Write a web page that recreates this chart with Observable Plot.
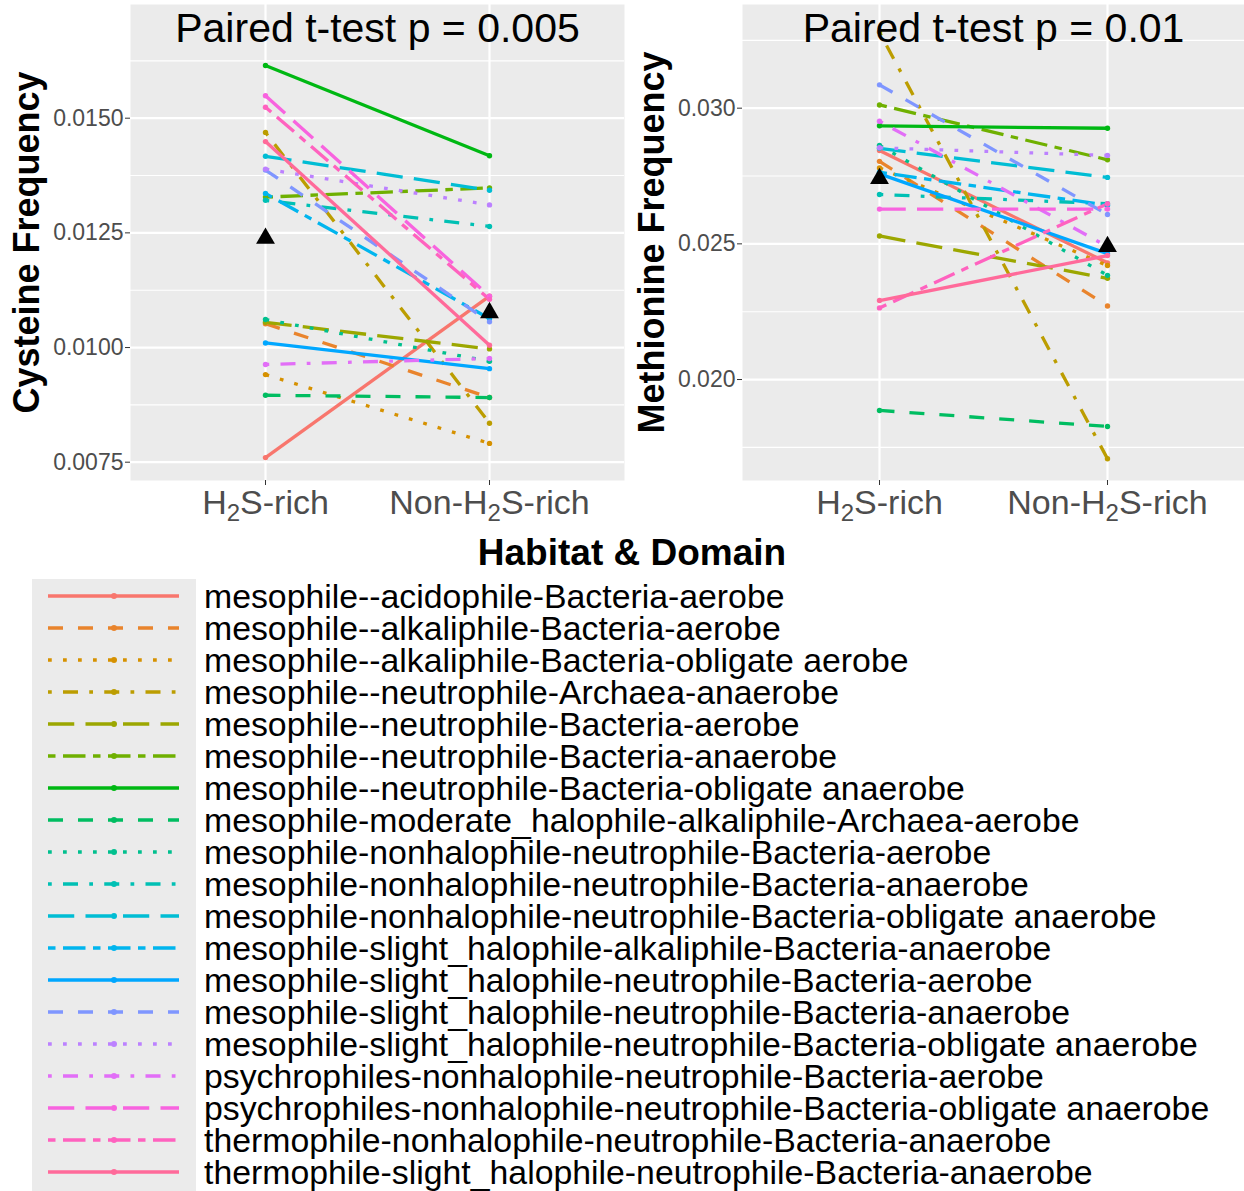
<!DOCTYPE html>
<html>
<head>
<meta charset="utf-8">
<script src="https://cdn.jsdelivr.net/npm/d3@7"></script>
<script src="https://cdn.jsdelivr.net/npm/@observablehq/plot@0.6"></script>
<style>
  html, body { margin: 0; padding: 0; background: #fff; }
  #root { position: relative; width: 1244px; height: 1191px; overflow: hidden; font-family: "Liberation Sans", Arial, sans-serif; }
  #left { position: absolute; left: 0; top: 0; }
  #right { position: absolute; left: 630px; top: 0; }
  #legendTitle { position: absolute; left: 0; width: 1264px; top: 532px; text-align: center; font-weight: bold; font-size: 37px; color: #000; }
  #legend { position: absolute; left: 0; top: 560px; }
</style>
</head>
<body>
<div id="root">
  <div id="left"></div>
  <div id="right"></div>
  <div id="legendTitle">Habitat &amp; Domain</div>
  <div id="legend"></div>
</div>
<script>
// ---------------- data ----------------
const habitats = ["H2S-rich", "Non-H2S-rich"];
const series = [
  "mesophile--acidophile-Bacteria-aerobe",
  "mesophile--alkaliphile-Bacteria-aerobe",
  "mesophile--alkaliphile-Bacteria-obligate aerobe",
  "mesophile--neutrophile-Archaea-anaerobe",
  "mesophile--neutrophile-Bacteria-aerobe",
  "mesophile--neutrophile-Bacteria-anaerobe",
  "mesophile--neutrophile-Bacteria-obligate anaerobe",
  "mesophile-moderate_halophile-alkaliphile-Archaea-aerobe",
  "mesophile-nonhalophile-neutrophile-Bacteria-aerobe",
  "mesophile-nonhalophile-neutrophile-Bacteria-anaerobe",
  "mesophile-nonhalophile-neutrophile-Bacteria-obligate anaerobe",
  "mesophile-slight_halophile-alkaliphile-Bacteria-anaerobe",
  "mesophile-slight_halophile-neutrophile-Bacteria-aerobe",
  "mesophile-slight_halophile-neutrophile-Bacteria-anaerobe",
  "mesophile-slight_halophile-neutrophile-Bacteria-obligate anaerobe",
  "psychrophiles-nonhalophile-neutrophile-Bacteria-aerobe",
  "psychrophiles-nonhalophile-neutrophile-Bacteria-obligate anaerobe",
  "thermophile-nonhalophile-neutrophile-Bacteria-anaerobe",
  "thermophile-slight_halophile-neutrophile-Bacteria-anaerobe"
];
// Cysteine frequency
const cysH2S = [0.00760, 0.01052, 0.00941, 0.01469, 0.01055, 0.01328, 0.01615, 0.00896, 0.01061, 0.01321,
                0.01417, 0.01336, 0.01010, 0.01387, 0.01389, 0.00963, 0.01549, 0.01524, 0.01449];
const cysNon = [0.01112, 0.00891, 0.00791, 0.00835, 0.00997, 0.01348, 0.01418, 0.00891, 0.00970, 0.01264,
                0.01343, 0.01063, 0.00954, 0.01056, 0.01311, 0.00976, 0.01112, 0.01105, 0.01005];
// Methionine frequency
const metH2S = [0.02844, 0.02804, 0.02780, 0.03280, 0.02529, 0.03012, 0.02935, 0.01886, 0.02863, 0.02682,
                0.02852, 0.02764, 0.02758, 0.03086, 0.02854, 0.02952, 0.02628, 0.02264, 0.02291];
const metNon = [0.02430, 0.02271, 0.02420, 0.01708, 0.02373, 0.02810, 0.02926, 0.01827, 0.02384, 0.02648,
                0.02745, 0.02642, 0.02464, 0.02608, 0.02826, 0.02490, 0.02628, 0.02648, 0.02457];
// axis ticks
const cysTicks = [0.0075, 0.0100, 0.0125, 0.0150];
const cysMinor = [0.00875, 0.01125, 0.01375, 0.01625];
const metTicks = [0.020, 0.025, 0.030];
const metMinor = [0.0175, 0.0225, 0.0275, 0.0325];
const titles = ["Paired t-test p = 0.005", "Paired t-test p = 0.01"];
const yLabels = ["Cysteine Frequency", "Methionine Frequency"];
const legendTitle = "Habitat & Domain";

// ---------------- styles ----------------
// ggplot2 hue palette (polar LUV, c=100, l=65)
function hclHex(h, c, l) {
  const hr = h * Math.PI / 180;
  const U = c * Math.cos(hr), V = c * Math.sin(hr);
  const Xn = 95.047, Yn = 100, Zn = 108.883;
  const den = Xn + 15 * Yn + 3 * Zn;
  const un = 4 * Xn / den, vn = 9 * Yn / den;
  const Y = l > 8 ? Yn * Math.pow((l + 16) / 116, 3) : Yn * l / 903.3;
  const u = U / (13 * l) + un, v = V / (13 * l) + vn;
  const X = 9 * Y * u / (4 * v);
  const Z = -X / 3 - 5 * Y + 3 * Y / v;
  const x = X / 100, y = Y / 100, z = Z / 100;
  const lin = [
    3.240479 * x - 1.537150 * y - 0.498535 * z,
    -0.969256 * x + 1.875992 * y + 0.041556 * z,
    0.055648 * x - 0.204043 * y + 1.057311 * z
  ];
  const g = t => t <= 0.0031308 ? 12.92 * t : 1.055 * Math.pow(t, 1 / 2.4) - 0.055;
  const to = t => Math.round(255 * Math.max(0, Math.min(1, g(t)))).toString(16).padStart(2, "0");
  return "#" + lin.map(to).join("");
}
const colors = series.map((_, i) => hclHex(15 + i * 360 / series.length, 100, 65));
const U = 3.75;
const dashes = [null, [4*U, 4*U], [1*U, 3*U], [1*U, 3*U, 4*U, 3*U], [7*U, 3*U], [2*U, 2*U, 6*U, 2*U]];
const lineW = 3.3;
const FONT = "'Liberation Sans', Arial, sans-serif";

function buildData(a, b) {
  const out = [];
  series.forEach((s, i) => {
    out.push({series: s, idx: i, habitat: habitats[0], value: a[i]});
    out.push({series: s, idx: i, habitat: habitats[1], value: b[i]});
  });
  return out;
}

function panel({data, domain, ticks, minor, fmt, title, ylabel, width, marginLeft, marginRight, labelDx}) {
  const marks = [
    Plot.frame({fill: "#EBEBEB", stroke: null}),
    Plot.ruleY(minor, {stroke: "white", strokeWidth: 1.1}),
    Plot.ruleY(ticks, {stroke: "white", strokeWidth: 2.2}),
    Plot.ruleX(habitats, {stroke: "white", strokeWidth: 2.2}),
    ...series.map((s, i) => Plot.line(data.filter(d => d.idx === i), {
      x: "habitat", y: "value", stroke: "series", strokeWidth: lineW,
      strokeDasharray: dashes[i % 6] ? dashes[i % 6].join(",") : undefined,
      strokeLinecap: "butt"
    })),
    Plot.dot(data, {x: "habitat", y: "value", fill: "series", r: 2.7}),
    Plot.dot(data, Plot.groupX({y: "mean"}, {x: "habitat", y: "value", symbol: "triangle", fill: "black", r: 7})),
    Plot.text([title], {frameAnchor: "top", dy: 24, fontSize: 41, fill: "black", lineAnchor: "middle", textAnchor: "middle"}),
    Plot.text([ylabel], {frameAnchor: "left", rotate: -90, dx: labelDx, fontSize: 36, fontWeight: "bold", fill: "black", lineAnchor: "middle", textAnchor: "middle"}),
    Plot.axisY(ticks, {tickFormat: fmt, tickSize: 5, tickPadding: 2, fontSize: 23, stroke: "#333333", fill: "#4D4D4D", label: null}),
    Plot.axisX(habitats, {tickSize: 5, tickPadding: 4, fontSize: 34, stroke: "#333333", fill: "#4D4D4D", label: null})
  ];
  const svg = Plot.plot({
    width, height: 535,
    marginLeft, marginRight, marginTop: 4, marginBottom: 55,
    style: {fontFamily: FONT, background: "white", overflow: "visible"},
    x: {type: "point", domain: habitats, padding: 0.6},
    y: {domain},
    color: {domain: series, range: colors},
    marks
  });
  // subscript 2 in H2S
  svg.querySelectorAll("text").forEach(t => {
    if (t.childElementCount === 0 && t.textContent.includes("H2S")) {
      const txt = t.textContent;
      const k = txt.indexOf("H2S");
      t.textContent = "";
      const ns = "http://www.w3.org/2000/svg";
      const a = document.createElementNS(ns, "tspan"); a.textContent = txt.slice(0, k + 1);
      const b = document.createElementNS(ns, "tspan"); b.textContent = "2"; b.setAttribute("font-size", "24"); b.setAttribute("dy", "7");
      const c = document.createElementNS(ns, "tspan"); c.textContent = txt.slice(k + 2); c.setAttribute("dy", "-7");
      t.append(a, b, c);
    }
  });
  return svg;
}

document.getElementById("left").appendChild(panel({
  data: buildData(cysH2S, cysNon), domain: [0.007101, 0.017479], ticks: cysTicks, minor: cysMinor,
  fmt: d3.format(".4f"), title: titles[0], ylabel: yLabels[0],
  width: 630, marginLeft: 130, marginRight: 6, labelDx: -103
}));
document.getElementById("right").appendChild(panel({
  data: buildData(metH2S, metNon), domain: [0.016279, 0.033821], ticks: metTicks, minor: metMinor,
  fmt: d3.format(".3f"), title: titles[1], ylabel: yLabels[1],
  width: 614, marginLeft: 112, marginRight: 0, labelDx: -90
}));

// ---------------- legend ----------------
document.getElementById("legendTitle").textContent = legendTitle;
const rowH = 32, row0 = 36; // relative to legend top (560)
const lg = d3.select("#legend").append("svg")
  .attr("width", 1244).attr("height", 631)
  .style("font-family", FONT);
lg.append("rect").attr("x", 32).attr("y", 19).attr("width", 164).attr("height", 612).attr("fill", "#EBEBEB");
series.forEach((s, i) => {
  const cy = row0 + i * rowH;
  lg.append("line").attr("x1", 48).attr("x2", 179).attr("y1", cy).attr("y2", cy)
    .attr("stroke", colors[i]).attr("stroke-width", lineW)
    .attr("stroke-dasharray", dashes[i % 6] ? dashes[i % 6].join(",") : null);
  lg.append("circle").attr("cx", 114).attr("cy", cy).attr("r", 3).attr("fill", colors[i]);
  lg.append("text").attr("x", 204).attr("y", cy + 12).attr("font-size", 33.8).attr("fill", "black").text(s);
});
</script>
</body>
</html>
